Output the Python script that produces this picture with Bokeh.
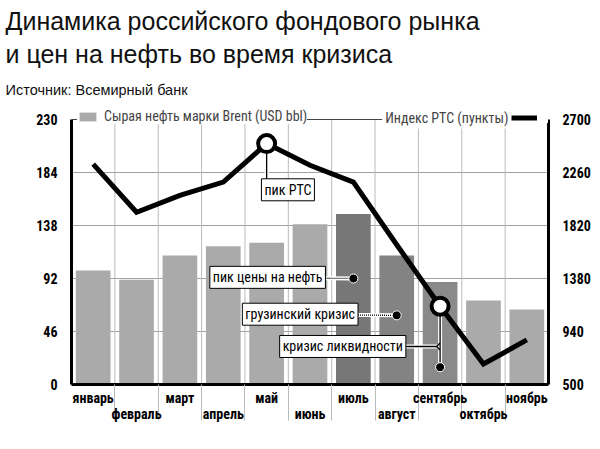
from bokeh.plotting import figure
from bokeh.models import (Range1d, LinearAxis, FixedTicker, Label, Legend,
                          LegendItem, ColumnDataSource, Grid, Span, Title)
from bokeh.embed import file_html
from bokeh.resources import INLINE

# ---------------- data ----------------
months = ["январь", "февраль", "март", "апрель", "май", "июнь",
          "июль", "август", "сентябрь", "октябрь", "ноябрь"]
brent = [99, 91, 112, 120, 123, 139, 148, 112, 89, 73, 65]
rts = [2330, 1930, 2070, 2180, 2500, 2320, 2180, 1660, 1150, 670, 870]
brent_ticks = [0, 46, 92, 138, 184, 230]
rts_ticks = [500, 940, 1380, 1820, 2260, 2700]
bar_colors = ["#aaaaaa"] * 6 + ["#777777", "#838383", "#8a8a8a"] + ["#aaaaaa"] * 2

notes = ["пик РТС", "пик цены на нефть", "грузинский кризис", "кризис ликвидности"]
note_month = ["май", "июль", "август", "сентябрь"]

title1 = "Динамика российского фондового рынка"
title2 = "и цен на нефть во время кризиса"
source = "Источник: Всемирный банк"
leg_bar = "Сырая нефть марки Brent (USD bbl)"
leg_line = "Индекс РТС (пункты)"

# ---------------- layout constants ----------------
NARROW = "'Roboto Condensed', 'DejaVu Sans Condensed', 'Liberation Sans Narrow', 'Liberation Sans'"
FONT = "Liberation Sans"
B_MIN, B_MAX = 0, 230
R_MIN, R_MAX = 500, 2700
CHART_H, PAD_PX = 265, 15            # px of the 0..230 band, px of headroom for the legend
B_TOP = B_MAX + (B_MAX - B_MIN) * PAD_PX / CHART_H
R_TOP = R_MAX + (R_MAX - R_MIN) * PAD_PX / CHART_H

xs = [i + 0.5 for i in range(len(months))]
mx = {m: x for m, x in zip(months, xs)}
bounds_x = list(range(1, len(months)))


def rts_to_brent(v):
    return (v - R_MIN) / (R_MAX - R_MIN) * B_MAX


p = figure(width=600, height=449, output_backend="svg", toolbar_location=None,
           x_range=Range1d(0, len(months)), y_range=Range1d(B_MIN, B_TOP),
           x_axis_type=None, y_axis_type=None,
           min_border_left=71, min_border_right=52, min_border_top=104,
           min_border_bottom=65, outline_line_color=None,
           background_fill_color="white", border_fill_color="white")
p.extra_y_ranges = {"rts": Range1d(R_MIN, R_TOP)}
p.xgrid.visible = False
p.ygrid.visible = False

# ---------------- titles (stacked above, nearest first) ----------------
for t, fs, so in ((source, "14.5px", 13), (title2, "25px", 11), (title1, "25px", -5)):
    p.add_layout(Title(text=t, align="left", offset=-66, text_font=FONT,
                       text_font_size=fs, text_font_style="normal",
                       text_color="#111111", standoff=so), "above")

# grids
p.segment(x0=bounds_x, y0=[B_MIN] * len(bounds_x), x1=bounds_x,
          y1=[B_MAX] * len(bounds_x), line_color="#bbbbbb", line_width=1)
hgrid = Grid(dimension=1, ticker=FixedTicker(ticks=brent_ticks[1:-1]),
             grid_line_color="#444444", grid_line_width=1, grid_line_dash="1 1")
p.add_layout(hgrid)
p.add_layout(Span(location=B_MAX, dimension="width", line_color="#444444",
                  line_width=1))

# bars
src = ColumnDataSource(dict(x=xs, top=brent, color=bar_colors))
bars = p.vbar(x="x", top="top", width=0.8, source=src, fill_color="color",
              line_color=None)

# RTS line
rline = p.line(xs, rts, y_range_name="rts", line_width=5, line_color="black",
               line_join="miter")

# ---------------- annotations ----------------
label_font_size = "14px"
box_left = [4.38, 3.19, 3.94, 4.80]
box_y = [169, 93, 61, 33]
dot_y = [None, 92, 60, 15]

i_peak = months.index(note_month[0])
px = mx[note_month[0]]
py = rts_to_brent(rts[i_peak])
p.line([px, px], [py, box_y[0]], line_color="white", line_width=4)
p.line([px, px], [py, box_y[0]], line_color="black", line_width=1.3)

for k in (1, 2):
    dx = mx[note_month[k]]
    p.line([box_left[k] + 0.5, dx], [box_y[k], dot_y[k]], line_color="white", line_width=4)
    p.line([box_left[k] + 0.5, dx], [box_y[k], dot_y[k]], line_color="black",
           line_width=1.3, line_dash="1 1")
    p.scatter([dx], [dot_y[k]], size=9, fill_color="black", line_color="white",
              line_width=1)

i_sep = months.index(note_month[3])
sx = mx[note_month[3]]
sy = rts_to_brent(rts[i_sep])
p.line([sx, sx], [sy, dot_y[3]], line_color="white", line_width=4)
p.line([box_left[3] + 0.5, sx], [box_y[3], box_y[3]], line_color="white", line_width=4)
p.line([sx, sx], [sy, dot_y[3]], line_color="black", line_width=1.3)
p.line([box_left[3] + 0.5, sx - 0.08, sx], [box_y[3], box_y[3], box_y[3] + 3],
       line_color="black", line_width=1.3)
p.line([sx - 0.08, sx], [box_y[3], box_y[3] - 3], line_color="black", line_width=1.3)
p.scatter([sx], [dot_y[3]], size=9, fill_color="black", line_color="white", line_width=1)

p.scatter([px, sx], [rts[i_peak], rts[i_sep]], y_range_name="rts", size=17,
          fill_color="white", line_color="black", line_width=4)

for k, t in enumerate(notes):
    p.add_layout(Label(x=box_left[k], y=box_y[k], text=t, text_align="left",
                       text_baseline="middle", text_font=NARROW,
                       text_font_size=label_font_size, text_color="black",
                       border_line_color="black", border_line_width=1,
                       background_fill_color="white", padding=3))

# ---------------- axes ----------------
tick_font = dict(major_label_text_font=NARROW, major_label_text_font_style="bold",
                 major_label_text_font_size="14px", major_label_text_color="black")

left = LinearAxis(ticker=FixedTicker(ticks=brent_ticks), bounds=(B_MIN, B_MAX),
                  axis_line_width=3, axis_line_color="black",
                  major_tick_line_color=None, minor_tick_line_color=None,
                  major_label_standoff=8, **tick_font)
right = LinearAxis(y_range_name="rts", ticker=FixedTicker(ticks=rts_ticks),
                   bounds=(R_MIN, R_MAX), axis_line_width=3, axis_line_color="black",
                   major_tick_line_color=None, minor_tick_line_color=None,
                   major_label_standoff=8, **tick_font)
p.add_layout(left, "left")
p.add_layout(right, "right")

odd = xs[0::2]
even = xs[1::2]
ax1 = LinearAxis(ticker=FixedTicker(ticks=odd, minor_ticks=bounds_x),
                 major_label_overrides={x: months[i] for i, x in enumerate(xs) if x in odd},
                 axis_line_width=3, axis_line_color="black",
                 major_tick_line_color=None, minor_tick_in=0, minor_tick_out=36,
                 minor_tick_line_color="#bbbbbb", major_label_standoff=-31, **tick_font)
ax2 = LinearAxis(ticker=FixedTicker(ticks=even),
                 major_label_overrides={x: months[i] for i, x in enumerate(xs) if x in even},
                 axis_line_color=None, major_tick_line_color=None,
                 minor_tick_line_color=None, major_label_standoff=-9, **tick_font)
p.add_layout(ax1, "below")
p.add_layout(ax2, "below")

# ---------------- legend ----------------
leg1 = Legend(items=[LegendItem(label=leg_bar, renderers=[bars])], location=(6, 260),
              orientation="horizontal", padding=3, margin=0, glyph_width=21,
              glyph_height=11, label_height=11, label_standoff=6,
              label_text_font=NARROW, label_text_font_size="14px",
              background_fill_color="white", background_fill_alpha=1,
              border_line_color=None)
leg2 = Legend(items=[LegendItem(label=" ", renderers=[rline])], location=(440, 261),
              orientation="horizontal", padding=3, margin=0, glyph_width=26,
              glyph_height=11, label_height=11, label_standoff=0,
              label_text_font=NARROW, label_text_font_size="14px",
              background_fill_color="white", background_fill_alpha=1,
              border_line_color=None)
p.add_layout(leg1)
p.add_layout(leg2)
p.add_layout(Label(x=440, y=267, x_units="screen", y_units="screen", text=leg_line,
                   text_align="right", text_baseline="middle", text_font=NARROW,
                   text_font_size="14px", background_fill_color="white",
                   padding=3))

open("out.html", "w").write(file_html(p, INLINE))
